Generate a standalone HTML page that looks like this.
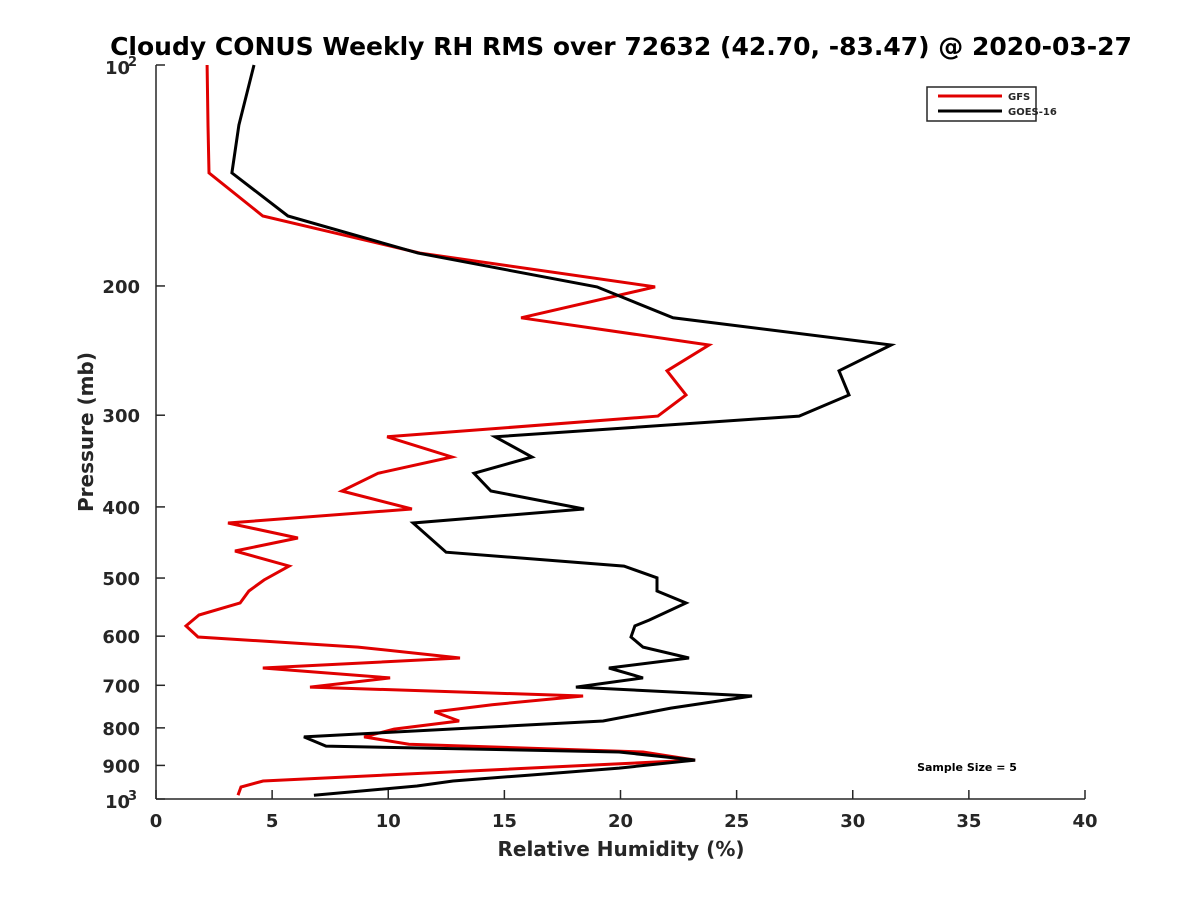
<!DOCTYPE html>
<html><head><meta charset="utf-8"><style>
body{margin:0;background:#fff}
svg text{font-family:"DejaVu Sans","Liberation Sans",sans-serif;font-weight:bold;fill:#262626}
</style></head><body>
<svg id="chart" width="1200" height="900" viewBox="0 0 1200 900" xmlns="http://www.w3.org/2000/svg">
<rect width="1200" height="900" fill="#fff"/>
<text x="621" y="55" font-size="25" text-anchor="middle" style="fill:#000">Cloudy CONUS Weekly RH RMS over 72632 (42.70, -83.47) @ 2020-03-27</text>
<g id="axes"></g>
<g id="series"></g>
<text x="621" y="856" font-size="20" text-anchor="middle">Relative Humidity (%)</text>
<text transform="translate(93,432) rotate(-90)" font-size="20" text-anchor="middle">Pressure (mb)</text>
<g>
<rect x="927" y="87" width="109" height="34" fill="#fff" stroke="#262626" stroke-width="1.5"/>
<line x1="938" y1="96" x2="1002" y2="96" stroke="#e00000" stroke-width="3"/>
<text x="1008" y="100" font-size="10">GFS</text>
<line x1="938" y1="111" x2="1002" y2="111" stroke="#000" stroke-width="3"/>
<text x="1008" y="115" font-size="10">GOES-16</text>
</g>
<text x="967" y="771" font-size="11" text-anchor="middle" style="fill:#000">Sample Size = 5</text>
</svg>
<script>
const xTicks=[0,5,10,15,20,25,30,35,40];
const yTicks=[200,300,400,500,600,700,800,900];
const gfsP=[100,120.7,140.3,160.6,180.4,200.6,221,240.7,261,281.6,300.8,321,342,360,380.5,402.6,420.7,441,459.4,481.6,503,520.8,540.8,561.5,581,601.6,621,642.6,663,684,704,724,744,761,783,803,823,842,863,885,945,963,988];
const gfsRH=[2.2,2.24,2.28,4.6,11.37,21.49,15.72,23.81,22.0,22.82,21.61,9.95,12.74,9.56,8.0,11.02,3.1,6.11,3.4,5.73,4.65,4.0,3.62,1.85,1.29,1.81,8.7,13.09,4.6,10.08,6.63,18.39,14.47,11.99,13.05,10.25,8.96,10.89,20.97,23.21,4.61,3.66,3.53];
const goesP=[100,120.7,140.3,160.6,180.4,200.6,221,240.7,261,281.6,300.8,321,342,360,380.5,402.6,420.7,461,481.6,499.6,520.8,540.8,570.5,581,601.6,621,642.6,663,684,704,724,752,783,823,847,863,885,907.6,928,945,960,988];
const goesRH=[4.22,3.57,3.27,5.68,11.28,18.99,22.26,31.65,29.41,29.84,27.69,14.6,16.19,13.69,14.42,18.43,11.07,12.49,20.15,21.57,21.57,22.82,21.23,20.62,20.45,20.97,22.95,19.5,20.97,18.08,25.66,22.17,19.25,6.37,7.32,19.94,23.21,19.94,16.02,12.79,11.24,6.8];
const X0=156,X1=1085,Y0=65,Y1=799;
const xs=v=>X0+(v/40)*(X1-X0);
const ys=p=>Y0+(Math.log10(p)-2)*(Y1-Y0);
const NS='http://www.w3.org/2000/svg';
const axes=document.getElementById('axes'),ser=document.getElementById('series');
function mk(tag,attrs,parent){const e=document.createElementNS(NS,tag);for(const k in attrs)e.setAttribute(k,attrs[k]);parent.appendChild(e);return e;}
const ls={stroke:'#262626','stroke-width':1.5,fill:'none'};
const lspine=mk('line',Object.assign({x1:X0,y1:Y0,x2:X0,y2:Y1},ls),axes);


const bspine=mk('line',Object.assign({x1:X0,y1:Y1,x2:X1,y2:Y1},ls),axes);


xTicks.forEach(v=>{
  mk('line',Object.assign({x1:xs(v),y1:Y1,x2:xs(v),y2:Y1-9},ls),axes);
  const t=mk('text',{x:xs(v),y:Y1+28,'font-size':18,'text-anchor':'middle'},axes);
  t.textContent=v;
  
  
});
[100,1000].concat(yTicks).forEach(p=>{
  mk('line',Object.assign({x1:X0,y1:ys(p),x2:X0+9,y2:ys(p)},ls),axes);
});
yTicks.forEach(p=>{
  const t=mk('text',{x:X0-16,y:ys(p)+7,'font-size':18,'text-anchor':'end'},axes);
  t.textContent=p;
  
  
});
[[100,'2'],[1000,'3']].forEach(([p,e])=>{
  const t=mk('text',{x:X0-51,y:ys(p)+9,'font-size':18},axes);
  t.textContent='10';
  
  
  const s=mk('text',{x:X0-28,y:ys(p)+1,'font-size':13},axes);
  s.textContent=e;
  
  
});
function line(P,R,color,name){
  const d=P.map((p,i)=>(i?'L':'M')+xs(R[i]).toFixed(1)+','+ys(p).toFixed(1)).join('');
  const pa=mk('path',{d:d,stroke:color,'stroke-width':3,fill:'none','stroke-linejoin':'miter'},ser);
  
  
}
line(gfsP,gfsRH,'#e00000','gfs-line');
line(goesP,goesRH,'#000','goes16-line');
</script>
</body></html>
